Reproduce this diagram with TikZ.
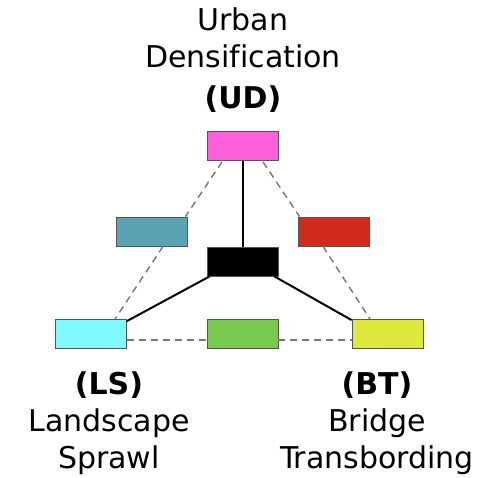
\documentclass[tikz,border=0pt]{standalone}
\usepackage{fontspec}
\setmainfont{DejaVu Sans}[Ligatures=NoCommon]
\usetikzlibrary{calc}
\definecolor{cpink}{HTML}{FF5EDB}
\definecolor{cteal}{HTML}{5BA3B3}
\definecolor{cred}{HTML}{D22B1E}
\definecolor{ccyan}{HTML}{80FAFF}
\definecolor{cgreen}{HTML}{77C94F}
\definecolor{cyellow}{HTML}{DCE83C}
\definecolor{cbord}{HTML}{555555}
\definecolor{cdash}{HTML}{777777}
\tikzset{
  box/.style={draw=cbord, line width=0.8pt, minimum width=71pt, minimum height=29pt, inner sep=0pt},
  solidlink/.style={line width=2pt, draw=black},
  dashlink/.style={line width=1.4pt, draw=cdash, dash pattern=on 7pt off 5pt},
  lbl/.style={font=\fontsize{30}{37}\selectfont, align=center, inner sep=0pt}
}
\begin{document}
\begin{tikzpicture}[x=1pt,y=-1pt]
\useasboundingbox (0,0) rectangle (497,477);
\node[box, fill=cpink] (ud) at (242.5,146) {};
\node[box, fill=cteal] (teal) at (151.5,231.5) {};
\node[box, fill=cred] (red) at (333.5,231.5) {};
\node[box, fill=black] (blk) at (242.5,261.5) {};
\node[box, fill=ccyan] (ls) at (91,334) {};
\node[box, fill=cgreen] (grn) at (242.5,334) {};
\node[box, fill=cyellow] (bt) at (387.5,334) {};
% solid links
\draw[solidlink] (ud.south) -- (blk.north);
\draw[solidlink] ($(blk.south west)+(3,0)$) -- ($(ls.north east)+(0,2)$);
\draw[solidlink] ($(blk.south east)+(-4,0)$) -- ($(bt.north west)+(0,1)$);
% dashed links
\draw[dashlink] ($(ud.south)+(-20.5,1)$) -- ($(teal.north east)+(-2,0)$);
\draw[dashlink] ($(teal.south)+(11.5,0)$) -- ($(ls.north)+(24,0)$);
\draw[dashlink] ($(ud.south)+(20.5,1)$) -- ($(red.north west)+(2,0)$);
\draw[dashlink] ($(red.south)+(-10.5,0)$) -- ($(bt.north)+(-17.5,0)$);
\draw[dashlink] ($(ls.east)+(0,6)$) -- ($(grn.west)+(0,6)$);
\draw[dashlink] ($(grn.east)+(0,6)$) -- ($(bt.west)+(0,6)$);
% labels
\node[lbl] (udl) at (243,60) {Urban\\Densification\\[4pt]\textbf{(UD)}};
\node[lbl] (lsl) at (109,423) {\textbf{(LS)}\\Landscape\\Sprawl};
\node[lbl] (btl) at (377,423) {\textbf{(BT)}\\Bridge\\Transbording};
\end{tikzpicture}
\end{document}
